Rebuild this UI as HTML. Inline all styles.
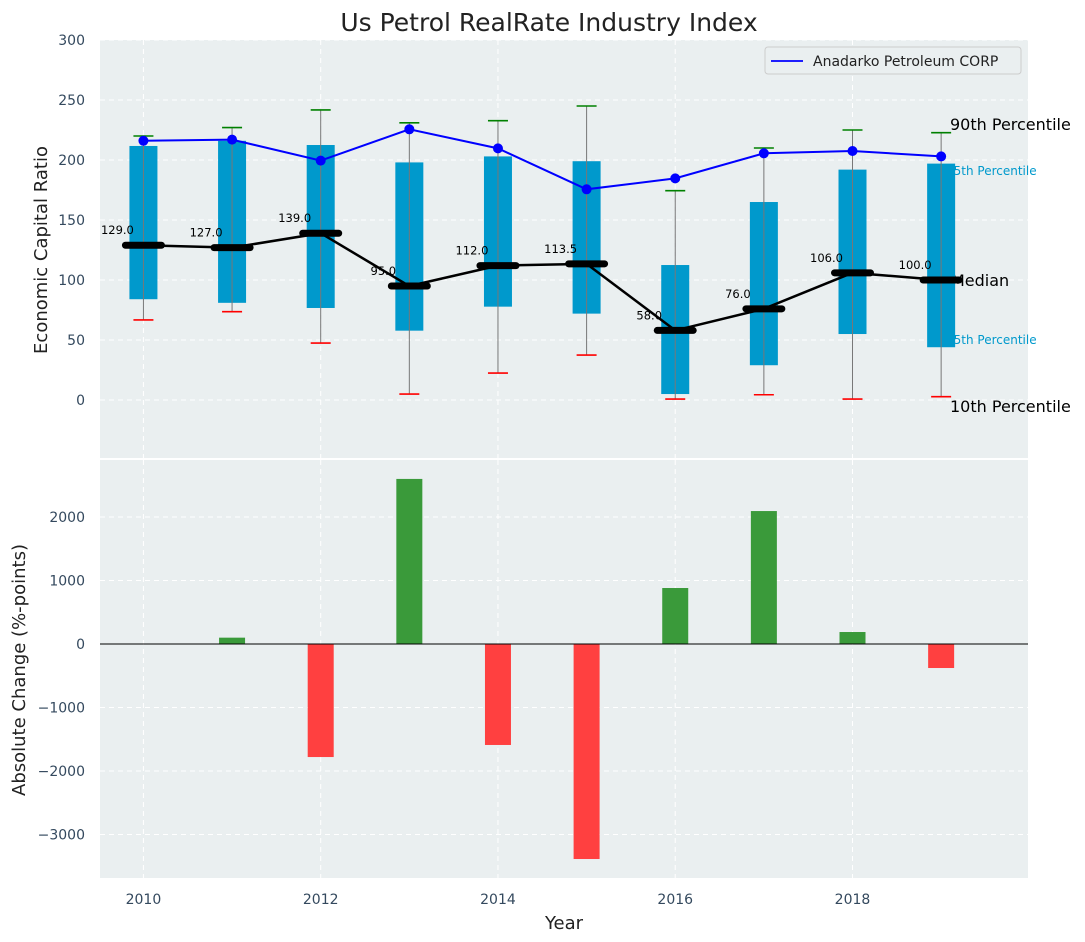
<!DOCTYPE html>
<html><head><meta charset="utf-8"><style>
html,body{margin:0;padding:0;background:#fff}
svg{display:block;font-family:"DejaVu Sans","Liberation Sans",sans-serif}
</style></head><body>
<svg id="chart" width="1085" height="942" xmlns="http://www.w3.org/2000/svg"></svg>
<script>
const years=[2010,2011,2012,2013,2014,2015,2016,2017,2018,2019];
const p90=[220,227,241.7,231,232.8,245,174.4,210,225,222.8];
const p75=[211.7,216,212.5,198,203,199,112.5,165,192,197];
const p25=[84,81,76.7,57.8,77.8,72,5,29,55,44];
const p10=[66.7,73.6,47.5,5,22.5,37.5,0.8,4.4,0.8,2.8];
const medians=[129,127,139,95,112,113.5,58,76,106,100];
const company=[216,217,199.5,225.6,209.7,175.6,184.7,205.6,207.5,203];
const changes=[0,100,-1780,2600,-1590,-3386,882,2094,189,-378];
const topTicks=[0,50,100,150,200,250,300];
const botTicks=[-3000,-2000,-1000,0,1000,2000];
const xTicks=[2010,2012,2014,2016,2018];

const svg=document.getElementById('chart');
const NS='http://www.w3.org/2000/svg';
function mk(tag,attrs,parent,name,text){const e=document.createElementNS(NS,tag);for(const k in attrs)e.setAttribute(k,attrs[k]);


if(text!==undefined)e.textContent=text;(parent||svg).appendChild(e);return e;}
const L=100,R=1028;
const X=v=>L+(v-2009.51)/(2019.98-2009.51)*(R-L);
const T0=40,T1=458,Ymin=-48.3,Ymax=300;
const Y=v=>T1-(v-Ymin)/(Ymax-Ymin)*(T1-T0);
const B0=460,B1=878,Bmin=-3685,Bmax=2898;
const YB=v=>B1-(v-Bmin)/(Bmax-Bmin)*(B1-B0);
const tick='#34495e';
const fmt=t=>t<0?'\u2212'+Math.abs(t):String(t);
mk('text',{x:549,y:31,'font-size':25,'text-anchor':'middle',fill:'#222'},svg,'chart-title','Us Petrol RealRate Industry Index');
mk('rect',{x:L,y:T0,width:R-L,height:T1-T0,fill:'#eaeff0'},svg,'top-plot-background');
mk('rect',{x:L,y:B0,width:R-L,height:B1-B0,fill:'#eaeff0'},svg,'bottom-plot-background');
topTicks.forEach(t=>{mk('line',{x1:L,x2:R,y1:Y(t),y2:Y(t),stroke:'#fff','stroke-dasharray':'5,4','stroke-width':1},svg,'top-grid-line');
mk('text',{x:85,y:Y(t)+5,'font-size':14,'text-anchor':'end',fill:tick},svg,'top-y-tick-label',fmt(t));});
botTicks.forEach(t=>{mk('line',{x1:L,x2:R,y1:YB(t),y2:YB(t),stroke:'#fff','stroke-dasharray':'5,4','stroke-width':1},svg,'bottom-grid-line');
mk('text',{x:85,y:YB(t)+5,'font-size':14,'text-anchor':'end',fill:tick},svg,'bottom-y-tick-label',fmt(t));});
xTicks.forEach(t=>{mk('line',{x1:X(t),x2:X(t),y1:T0,y2:T1,stroke:'#fff','stroke-dasharray':'5,4'},svg,'top-x-grid-line');
mk('line',{x1:X(t),x2:X(t),y1:B0,y2:B1,stroke:'#fff','stroke-dasharray':'5,4'},svg,'bottom-x-grid-line');
mk('text',{x:X(t),y:904,'font-size':14,'text-anchor':'middle',fill:tick},svg,'x-tick-label',t);});
mk('text',{x:564,y:929,'font-size':18,'text-anchor':'middle',fill:'#222'},svg,'x-axis-title','Year');
mk('text',{x:47,y:250,'font-size':18,'text-anchor':'middle',fill:'#222',transform:'rotate(-90 47 250)'},svg,'top-y-axis-title','Economic Capital Ratio');
mk('text',{x:25,y:670,'font-size':18,'text-anchor':'middle',fill:'#222',transform:'rotate(-90 25 670)'},svg,'bottom-y-axis-title','Absolute Change (%-points)');
mk('text',{x:950,y:130,'font-size':16,fill:'#000'},svg,'p90-label','90th Percentile');
mk('text',{x:946,y:175,'font-size':12,fill:'#0099cc'},svg,'p75-label','95th Percentile');
mk('text',{x:951,y:286,'font-size':16,fill:'#000'},svg,'median-label','Median');
mk('text',{x:946,y:344,'font-size':12,fill:'#0099cc'},svg,'p25-label','25th Percentile');
mk('text',{x:950,y:412,'font-size':16,fill:'#000'},svg,'p10-label','10th Percentile');
const bw=28;
years.forEach((yr,i)=>{const x=X(yr);
mk('rect',{x:x-bw/2,y:Y(p75[i]),width:bw,height:Y(p25[i])-Y(p75[i]),fill:'#0099cc'},svg,'box-'+yr);
mk('line',{x1:x,x2:x,y1:Y(p90[i]),y2:Y(p10[i]),stroke:'#777','stroke-width':1},svg,'whisker-'+yr);
mk('line',{x1:x-10,x2:x+10,y1:Y(p90[i]),y2:Y(p90[i]),stroke:'green','stroke-width':1.6},svg,'p90-cap-'+yr);
mk('line',{x1:x-10,x2:x+10,y1:Y(p10[i]),y2:Y(p10[i]),stroke:'red','stroke-width':1.6},svg,'p10-cap-'+yr);});
mk('polyline',{points:years.map((yr,i)=>X(yr)+','+Y(medians[i])).join(' '),fill:'none',stroke:'#000','stroke-width':2.5},svg,'median-line');
years.forEach((yr,i)=>{const x=X(yr);
mk('line',{x1:x-18,x2:x+18,y1:Y(medians[i]),y2:Y(medians[i]),stroke:'#000','stroke-width':7,'stroke-linecap':'round'},svg,'median-marker-'+yr);
mk('text',{x:x-26,y:Y(medians[i])-11,'font-size':11.5,'text-anchor':'middle',fill:'#000'},svg,'median-value-'+yr,medians[i].toFixed(1));});
mk('polyline',{points:years.map((yr,i)=>X(yr)+','+Y(company[i])).join(' '),fill:'none',stroke:'blue','stroke-width':2},svg,'company-line');
years.forEach((yr,i)=>mk('circle',{cx:X(yr),cy:Y(company[i]),r:5,fill:'blue'},svg,'company-point-'+yr));
const lg=mk('g',{},svg,'legend');
mk('rect',{x:765,y:47,width:256,height:27,fill:'#eaeff0',stroke:'#ccc',rx:3},lg,'legend-box');
mk('line',{x1:771,x2:803,y1:61,y2:61,stroke:'blue','stroke-width':1.8},lg,'legend-swatch');
mk('text',{x:813,y:66,'font-size':14,fill:'#222'},lg,'legend-entry','Anadarko Petroleum CORP');
years.forEach((yr,i)=>{const v=changes[i];if(v===0)return;const y0=YB(0),y1=YB(v);
mk('rect',{x:X(yr)-13,y:Math.min(y0,y1),width:26,height:Math.abs(y1-y0),fill:v>0?'#3a9a3a':'#ff4040'},svg,'change-bar-'+yr);});
mk('line',{x1:L,x2:R,y1:YB(0),y2:YB(0),stroke:'#000','stroke-width':1},svg,'zero-line');
</script>
</body></html>
